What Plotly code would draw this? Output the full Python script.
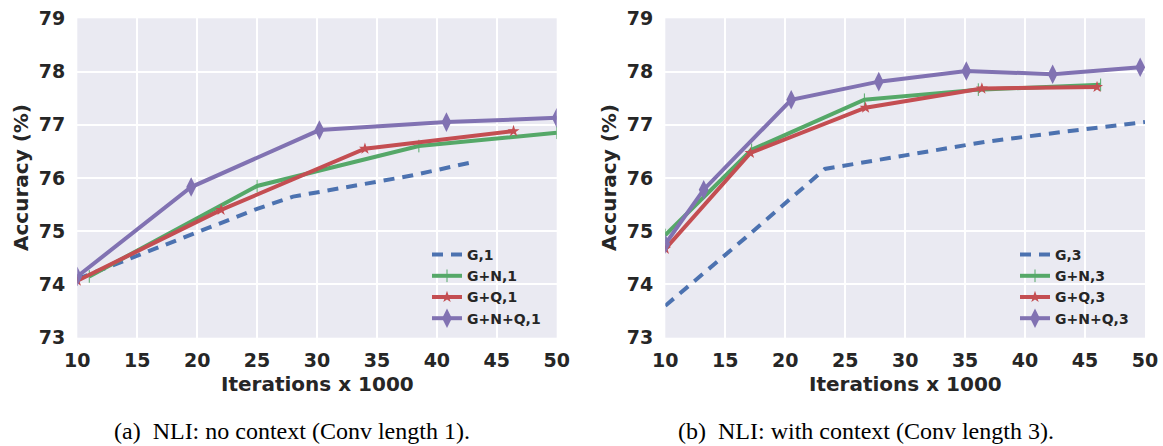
import plotly.graph_objects as go

# ---------------- data ----------------
# Left panel: no context (Conv length 1)
g1_x = [10, 15, 20, 25, 28, 33, 38, 43]
g1_y = [74.1, 74.55, 74.98, 75.42, 75.65, 75.85, 76.05, 76.3]
gn1_x = [11, 25, 38.5, 50]
gn1_y = [74.15, 75.85, 76.6, 76.85]
gq1_x = [10, 22, 34, 46.4]
gq1_y = [74.07, 75.4, 76.55, 76.88]
gnq1_x = [10, 19.5, 30.2, 40.8, 50]
gnq1_y = [74.15, 75.83, 76.9, 77.05, 77.13]

# Right panel: with context (Conv length 3)
g3_x = [10, 16.7, 23.3, 30, 36.7, 43.3, 50]
g3_y = [73.6, 74.88, 76.17, 76.42, 76.68, 76.87, 77.05]
gn3_x = [10, 17.2, 26.6, 36.1, 46.3]
gn3_y = [74.93, 76.53, 77.47, 77.66, 77.75]
gq3_x = [10, 17.1, 26.7, 36.4, 46]
gq3_y = [74.67, 76.47, 77.32, 77.68, 77.71]
gnq3_x = [10, 13.2, 20.5, 27.8, 35.1, 42.3, 49.6]
gnq3_y = [74.76, 75.78, 77.47, 77.81, 78.01, 77.95, 78.08]

x_ticks = [10, 15, 20, 25, 30, 35, 40, 45, 50]
y_ticks = [73, 74, 75, 76, 77, 78, 79]
x_title = "Iterations x 1000"
y_title = "Accuracy (%)"
captions = ["(a)  NLI: no context (Conv length 1).",
            "(b)  NLI: with context (Conv length 3)."]

# ---------------- style ----------------
W, H = 1163, 446
BLUE, GREEN, RED, PURPLE = "#4C72B0", "#55A868", "#C44E52", "#8172B2"
BG = "#EAEAF2"
TXT = "#262626"
FONT = "DejaVu Sans"

def px(v):
    return v / W

def py(v):
    return 1 - v / H

top, bottom = 18.3, 337.7
dom_left = [px(77.3), px(556.7)]
dom_right = [px(665.3), px(1145)]
ydom = [py(bottom), py(top)]

fig = go.Figure()

def add_series(xs, ys, name, color, xa, ya, leg, dash=None, marker=None):
    mode = "lines" if marker is None else "lines+markers"
    t = go.Scatter(
        x=xs, y=ys, name=name, mode=mode, xaxis=xa, yaxis=ya, legend=leg,
        line=dict(color=color, width=4, dash=dash if dash else "solid"),
    )
    if marker is not None:
        t.marker = marker
    fig.add_trace(t)

m_n = dict(symbol="line-ns", size=9, color=GREEN, line=dict(color=GREEN, width=1))
m_q = dict(symbol="star", size=9, color=RED, line=dict(width=0))
m_nq = dict(symbol="diamond-tall", size=14, color=PURPLE, line=dict(width=0))

add_series(g1_x, g1_y, "G,1", BLUE, "x", "y", "legend", dash="11px,8px")
add_series(gn1_x, gn1_y, "G+N,1", GREEN, "x", "y", "legend", marker=m_n)
add_series(gq1_x, gq1_y, "G+Q,1", RED, "x", "y", "legend", marker=m_q)
add_series(gnq1_x, gnq1_y, "G+N+Q,1", PURPLE, "x", "y", "legend", marker=m_nq)

add_series(g3_x, g3_y, "G,3", BLUE, "x2", "y2", "legend2", dash="11px,8px")
add_series(gn3_x, gn3_y, "G+N,3", GREEN, "x2", "y2", "legend2", marker=m_n)
add_series(gq3_x, gq3_y, "G+Q,3", RED, "x2", "y2", "legend2", marker=m_q)
add_series(gnq3_x, gnq3_y, "G+N+Q,3", PURPLE, "x2", "y2", "legend2", marker=m_nq)

xaxis_common = dict(
    range=[10, 50], tickmode="array", tickvals=x_ticks, ticktext=[str(v) for v in x_ticks],
    showgrid=True, gridcolor="white", gridwidth=1.5, zeroline=False, showline=False,
    ticks="", ticklabelstandoff=9, automargin=False, ticklabeloverflow="allow",
    tickfont=dict(family=FONT, size=19, color=TXT, weight="bold"),
)
yaxis_common = dict(
    range=[73, 79], tickmode="array", tickvals=y_ticks, ticktext=[str(v) for v in y_ticks],
    showgrid=True, gridcolor="white", gridwidth=1.5, zeroline=False, showline=False,
    ticks="", ticklabelstandoff=11, automargin=False, ticklabeloverflow="allow",
    tickfont=dict(family=FONT, size=19, color=TXT, weight="bold"),
)

legend_common = dict(
    bgcolor="rgba(0,0,0,0)", borderwidth=0,
    font=dict(family=FONT, size=14, color=TXT, weight="bold"),
    xanchor="left", yanchor="top", tracegroupgap=0,
)

fig.update_layout(
    width=W, height=H,
    margin=dict(l=0, r=0, t=0, b=0, autoexpand=False),
    paper_bgcolor="white", plot_bgcolor=BG,
    xaxis=dict(domain=dom_left, anchor="y", **xaxis_common),
    yaxis=dict(domain=ydom, anchor="x", **yaxis_common),
    xaxis2=dict(domain=dom_right, anchor="y2", **xaxis_common),
    yaxis2=dict(domain=ydom, anchor="x2", **yaxis_common),
    legend=dict(x=px(427), y=py(239), **legend_common),
    legend2=dict(x=px(1015), y=py(239), **legend_common),
    showlegend=True,
)

annos = []
for dom, yx, cap in [(dom_left, 21, captions[0]), (dom_right, 609, captions[1])]:
    cx = (dom[0] + dom[1]) / 2
    annos.append(dict(x=cx, y=py(384), xref="paper", yref="paper", text=x_title,
                      showarrow=False, xanchor="center", yanchor="middle",
                      font=dict(family=FONT, size=20, color=TXT, weight="bold")))
    annos.append(dict(x=px(yx), y=py((top + bottom) / 2), xref="paper", yref="paper",
                      text=y_title, textangle=-90, showarrow=False,
                      xanchor="center", yanchor="middle",
                      font=dict(family=FONT, size=20, color=TXT, weight="bold")))
annos.append(dict(x=px(292), y=py(431), xref="paper", yref="paper", text=captions[0],
                  showarrow=False, xanchor="center", yanchor="middle",
                  font=dict(family="Liberation Serif", size=24, color="black")))
annos.append(dict(x=px(866), y=py(431), xref="paper", yref="paper", text=captions[1],
                  showarrow=False, xanchor="center", yanchor="middle",
                  font=dict(family="Liberation Serif", size=24, color="black")))
fig.update_layout(annotations=annos)

fig.write_html(
    "out.html",
    config={"displayModeBar": False},
    post_script="document.body.style.margin='0';document.body.style.overflow='hidden';",
)
